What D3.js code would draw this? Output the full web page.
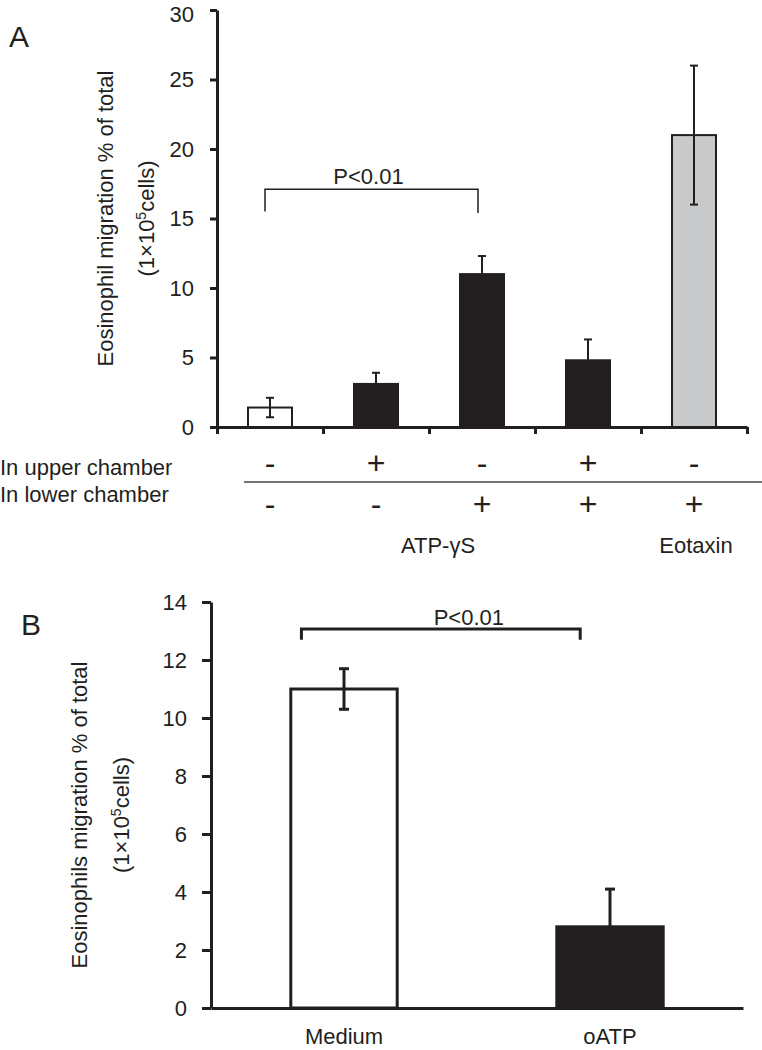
<!DOCTYPE html>
<html><head><meta charset="utf-8">
<script src="https://cdn.jsdelivr.net/npm/d3@7"></script>
<style>
body{margin:0;background:#fff}
svg{display:block}
text{font-family:"Liberation Sans",Arial,Helvetica,sans-serif;fill:#231f20}
</style>
</head><body>
<svg id="chart" width="762" height="1050"></svg>
<script>
// ---------- data ----------
const categoriesA = ["None", "Upper ATP-γS", "Lower ATP-γS", "Both ATP-γS", "Lower Eotaxin"];
const valuesA = [1.4, 3.1, 11.0, 4.8, 21.0];
const errorsA = [0.7, 0.8, 1.3, 1.5, 5.0];
const ticksA = [0, 5, 10, 15, 20, 25, 30];
const upperChamber = ["-", "+", "-", "+", "-"];
const lowerChamber = ["-", "-", "+", "+", "+"];
const rowLabels = ["In upper chamber", "In lower chamber"];
const groupLabels = ["ATP-γS", "Eotaxin"];
const pLabelA = "P<0.01";

const categoriesB = ["Medium", "oATP"];
const valuesB = [11.0, 2.8];
const errorsB = [0.7, 1.3];
const ticksB = [0, 2, 4, 6, 8, 10, 12, 14];
const pLabelB = "P<0.01";

// ---------- setup ----------
const ink = "#231f20";
const svg = d3.select("#chart");
const fillA = d3.scaleOrdinal().domain(categoriesA).range(["#ffffff", ink, ink, ink, "#c8c9cb"]);
const fillB = d3.scaleOrdinal().domain(categoriesB).range(["#ffffff", ink]);

function styleAxis(g, w) {
  g.selectAll(".domain").attr("stroke", ink).attr("stroke-width", w);
  g.selectAll(".tick line").attr("stroke", ink).attr("stroke-width", w);
  g.selectAll(".tick text").style("font-size", "22px").attr("fill", ink);
}

// ================= Panel A =================
const xA = d3.scaleBand().domain(categoriesA).range([217, 747]).paddingInner(0.585).paddingOuter(0.2925);
const edgesA = d3.scaleLinear().domain([0, categoriesA.length]).range([217, 747]);
const yA = d3.scaleLinear().domain([0, 30]).range([427, 10]);
const cxA = c => xA(c) + xA.bandwidth() / 2;

const gA = svg.append("g");
gA.append("text").attr("x", 9).attr("y", 47).style("font-size", "30px").text("A");

// bars
gA.selectAll("rect.bar").data(categoriesA).join("rect")
  .attr("class", "bar")
  .attr("x", d => xA(d)).attr("width", xA.bandwidth())
  .attr("y", (d, i) => yA(valuesA[i])).attr("height", (d, i) => yA(0) - yA(valuesA[i]))
  .attr("fill", d => fillA(d)).attr("stroke", ink).attr("stroke-width", 2);

// error bars
const errA = gA.selectAll("g.err").data(categoriesA).join("g").attr("class", "err");
errA.append("line")
  .attr("x1", d => cxA(d)).attr("x2", d => cxA(d))
  .attr("y1", (d, i) => yA(valuesA[i] - errorsA[i])).attr("y2", (d, i) => yA(valuesA[i] + errorsA[i]))
  .attr("stroke", ink).attr("stroke-width", 2);
errA.append("line")
  .attr("x1", d => cxA(d) - 4).attr("x2", d => cxA(d) + 4)
  .attr("y1", (d, i) => yA(valuesA[i] + errorsA[i])).attr("y2", (d, i) => yA(valuesA[i] + errorsA[i]))
  .attr("stroke", ink).attr("stroke-width", 2);
errA.append("line")
  .attr("x1", d => cxA(d) - 4).attr("x2", d => cxA(d) + 4)
  .attr("y1", (d, i) => yA(valuesA[i] - errorsA[i])).attr("y2", (d, i) => yA(valuesA[i] - errorsA[i]))
  .attr("stroke", ink).attr("stroke-width", 2);

// axes
gA.append("g").attr("transform", "translate(217,0)")
  .call(d3.axisLeft(yA).tickValues(ticksA).tickSize(7).tickPadding(16).tickSizeOuter(0))
  .call(g => styleAxis(g, 3))
  .call(g => g.selectAll(".tick text").filter(d => d === d3.max(ticksA)).attr("dy", "0.5em"));
gA.append("g").attr("transform", "translate(0,427)")
  .call(d3.axisBottom(edgesA).tickValues(d3.range(categoriesA.length + 1)).tickFormat("").tickSize(7).tickSizeOuter(0))
  .call(g => styleAxis(g, 3));

// y label
const ylA = gA.append("text").attr("transform", `translate(113,${(yA(0) + yA(30)) / 2}) rotate(-90)`)
  .attr("text-anchor", "middle").style("font-size", "22px");
ylA.text("Eosinophil migration % of total");
const yl2A = gA.append("text").attr("transform", `translate(154,${(yA(0) + yA(30)) / 2}) rotate(-90)`)
  .attr("text-anchor", "middle").style("font-size", "22px");
yl2A.append("tspan").text("(1×10");
yl2A.append("tspan").attr("dy", -8).style("font-size", "14px").text("5");
yl2A.append("tspan").attr("dy", 8).text("cells)");

// significance bracket A
const bA1 = cxA(categoriesA[0]) - 5, bA2 = cxA(categoriesA[2]) - 4;
gA.append("path")
  .attr("d", `M${bA1},${yA(15.5)}V${yA(17.1)}H${bA2}V${yA(15.4)}`)
  .attr("fill", "none").attr("stroke", ink).attr("stroke-width", 1.5);
gA.append("text").attr("x", (bA1 + bA2) / 2 - 3).attr("y", yA(17.1) - 5)
  .attr("text-anchor", "middle").style("font-size", "22px").text(pLabelA);

// condition table
gA.selectAll("text.rowlab").data(rowLabels).join("text").attr("class", "rowlab")
  .attr("x", 0).attr("y", (d, i) => 475 + i * 27).style("font-size", "22px").text(d => d);
gA.append("line").attr("x1", 244).attr("x2", 762).attr("y1", 482).attr("y2", 482)
  .attr("stroke", "#444").attr("stroke-width", 1.3);
gA.selectAll("text.up").data(upperChamber).join("text").attr("class", "up")
  .attr("x", (d, i) => cxA(categoriesA[i])).attr("y", 473.5)
  .attr("text-anchor", "middle").style("font-size", "32px").text(d => d);
gA.selectAll("text.low").data(lowerChamber).join("text").attr("class", "low")
  .attr("x", (d, i) => cxA(categoriesA[i])).attr("y", 514.5)
  .attr("text-anchor", "middle").style("font-size", "32px").text(d => d);
const groupX = [edgesA(2) + 9, cxA(categoriesA[4]) + 2];
gA.selectAll("text.grp").data(groupLabels).join("text").attr("class", "grp")
  .attr("x", (d, i) => groupX[i]).attr("y", 553)
  .attr("text-anchor", "middle").style("font-size", "22px").text(d => d);

// ================= Panel B =================
const xB = d3.scaleBand().domain(categoriesB).range([211, 743]).paddingInner(0.6).paddingOuter(0.3);
const yB = d3.scaleLinear().domain([0, 14]).range([1008, 602]);
const cxB = c => xB(c) + xB.bandwidth() / 2;

const gB = svg.append("g");
gB.append("text").attr("x", 21).attr("y", 635).style("font-size", "30px").text("B");

gB.selectAll("rect.bar").data(categoriesB).join("rect")
  .attr("class", "bar")
  .attr("x", d => xB(d)).attr("width", xB.bandwidth())
  .attr("y", (d, i) => yB(valuesB[i])).attr("height", (d, i) => yB(0) - yB(valuesB[i]))
  .attr("fill", d => fillB(d)).attr("stroke", ink).attr("stroke-width", 3);

const errB = gB.selectAll("g.err").data(categoriesB).join("g").attr("class", "err");
errB.append("line")
  .attr("x1", d => cxB(d)).attr("x2", d => cxB(d))
  .attr("y1", (d, i) => yB(valuesB[i] - errorsB[i])).attr("y2", (d, i) => yB(valuesB[i] + errorsB[i]))
  .attr("stroke", ink).attr("stroke-width", 3);
errB.append("line")
  .attr("x1", d => cxB(d) - 5).attr("x2", d => cxB(d) + 5)
  .attr("y1", (d, i) => yB(valuesB[i] + errorsB[i])).attr("y2", (d, i) => yB(valuesB[i] + errorsB[i]))
  .attr("stroke", ink).attr("stroke-width", 3);
errB.append("line")
  .attr("x1", d => cxB(d) - 5).attr("x2", d => cxB(d) + 5)
  .attr("y1", (d, i) => yB(valuesB[i] - errorsB[i])).attr("y2", (d, i) => yB(valuesB[i] - errorsB[i]))
  .attr("stroke", ink).attr("stroke-width", 3);

gB.append("g").attr("transform", "translate(211,0)")
  .call(d3.axisLeft(yB).tickValues(ticksB).tickSize(9).tickPadding(15).tickSizeOuter(0))
  .call(g => styleAxis(g, 3));
gB.append("g").attr("transform", "translate(0,1008)")
  .call(d3.axisBottom(xB).tickSize(0).tickPadding(20).tickSizeOuter(0))
  .call(g => styleAxis(g, 3));

const ylB = gB.append("text").attr("transform", `translate(87,${(yB(0) + yB(14)) / 2 + 10}) rotate(-90)`)
  .attr("text-anchor", "middle").style("font-size", "22px");
ylB.text("Eosinophils migration % of total");
const yl2B = gB.append("text").attr("transform", `translate(129,${(yB(0) + yB(14)) / 2 + 10}) rotate(-90)`)
  .attr("text-anchor", "middle").style("font-size", "22px");
yl2B.append("tspan").text("(1×10");
yl2B.append("tspan").attr("dy", -8).style("font-size", "14px").text("5");
yl2B.append("tspan").attr("dy", 8).text("cells)");

const bB1 = xB(categoriesB[0]) + xB.bandwidth() * 0.1, bB2 = xB(categoriesB[1]) + xB.bandwidth() * 0.22;
gB.append("path")
  .attr("d", `M${bB1},${yB(12.7)}V${yB(13.07)}H${bB2}V${yB(12.7)}`)
  .attr("fill", "none").attr("stroke", ink).attr("stroke-width", 3);
gB.append("text").attr("x", (bB1 + bB2) / 2 + 28).attr("y", yB(13.07) - 4)
  .attr("text-anchor", "middle").style("font-size", "22px").text(pLabelB);
</script>
</body></html>
